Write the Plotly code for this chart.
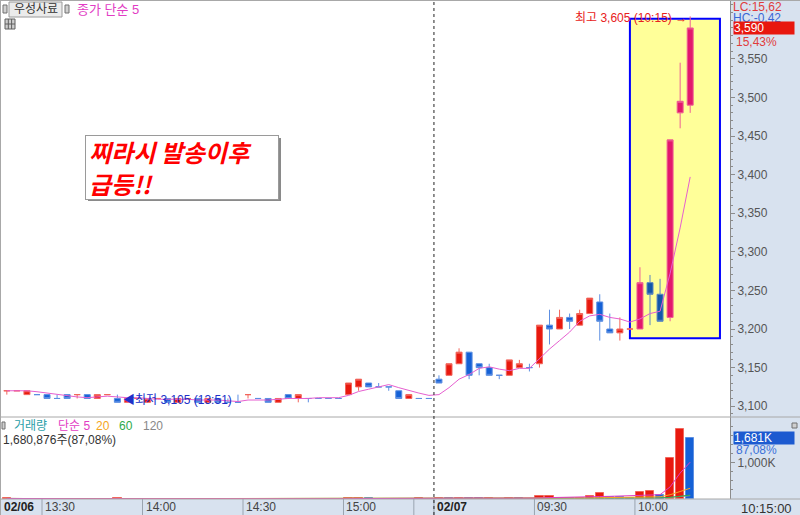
import numpy as np
import pandas as pd
import plotly.graph_objects as go

# ---------------- data (3-minute candles, 02/06 13:18 ~ 02/07 10:15) ----------------
opens = [3120, 3120, 3115, 3115, 3115, 3110, 3115, 3115, 3115, 3110,
         3115, 3110, 3105, 3110, 3105, 3110, 3110, 3105, 3110, 3110,
         3105, 3110, 3105, 3105, 3115, 3110, 3110, 3105, 3115, 3110,
         3110, 3110, 3110, 3110, 3115, 3125, 3130, 3125, 3125, 3120,
         3110, 3110, 3110,
         3135, 3140, 3155, 3170, 3155, 3150, 3140, 3140, 3150, 3150,
         3155, 3205, 3200, 3215, 3205, 3220, 3235, 3200, 3195, 3200,
         3200, 3260, 3245, 3215, 3480, 3490]
highs = [3120, 3120, 3120, 3115, 3115, 3115, 3115, 3115, 3115, 3115,
         3115, 3115, 3110, 3110, 3110, 3110, 3110, 3110, 3110, 3110,
         3110, 3110, 3110, 3115, 3115, 3110, 3110, 3110, 3115, 3115,
         3110, 3110, 3110, 3110, 3130, 3135, 3130, 3130, 3125, 3120,
         3115, 3110, 3110,
         3140, 3155, 3175, 3170, 3155, 3155, 3140, 3160, 3160, 3155,
         3205, 3225, 3225, 3220, 3225, 3240, 3245, 3220, 3215, 3200,
         3280, 3270, 3265, 3445, 3545, 3605]
lows = [3115, 3120, 3115, 3115, 3110, 3110, 3110, 3110, 3110, 3110,
        3115, 3105, 3105, 3110, 3105, 3110, 3105, 3105, 3110, 3105,
        3105, 3105, 3105, 3105, 3110, 3110, 3105, 3105, 3110, 3105,
        3105, 3110, 3110, 3110, 3115, 3120, 3125, 3125, 3120, 3110,
        3110, 3110, 3110,
        3130, 3140, 3155, 3135, 3140, 3140, 3135, 3140, 3150, 3145,
        3150, 3180, 3200, 3200, 3205, 3220, 3185, 3195, 3185, 3200,
        3200, 3205, 3210, 3210, 3460, 3480]
closes = [3120, 3120, 3120, 3115, 3110, 3110, 3110, 3115, 3110, 3115,
          3115, 3105, 3110, 3110, 3110, 3110, 3105, 3110, 3110, 3105,
          3110, 3105, 3105, 3105, 3115, 3110, 3105, 3110, 3110, 3115,
          3110, 3110, 3110, 3110, 3130, 3135, 3125, 3125, 3125, 3110,
          3115, 3110, 3110,
          3130, 3155, 3170, 3140, 3150, 3140, 3140, 3160, 3155, 3150,
          3205, 3200, 3215, 3210, 3220, 3240, 3210, 3195, 3200, 3200,
          3260, 3245, 3210, 3445, 3495, 3590]
volumes = [15000, 8000, 5000, 12000, 6000, 9000, 4000, 7000, 5000, 10000,
           6000, 20000, 12000, 5000, 8000, 4000, 9000, 6000, 3000, 7000,
           5000, 8000, 4000, 6000, 9000, 3000, 7000, 5000, 8000, 10000,
           4000, 3000, 2000, 3000, 20000, 30000, 15000, 8000, 6000, 12000,
           9000, 25000, 10000,
           40000, 15000, 40000, 20000, 15000, 15000, 8000, 20000, 15000, 12000,
           70000, 72000, 30000, 25000, 30000, 90000, 160000, 60000, 55000, 30000,
           185000, 210000, 110000, 1125000, 1930260, 1680876]

tick_pos = [3.5, 13.5, 23.5, 33.5, 40.5, 42.5, 52.5, 62.5]
tick_labels = ["13:30", "14:00", "14:30", "15:00", "", "02/07", "09:30", "10:00"]
first_label = "02/06"
day_break = 42.5
highlight_from = 63          # candles drawn inside the yellow box
box_x = (62.0, 70.96)
box_y = (3188, 3602)

price_ticks = list(range(3100, 3551, 50))

# ---------------- derived ----------------
n = len(closes)
idx = np.arange(n)
ma5 = pd.Series(closes).rolling(5, min_periods=1).mean()
vol = pd.Series(volumes, dtype=float)
vma = {w: vol.rolling(w, min_periods=1).mean() for w in (5, 20, 60, 120)}

RED, RED_L = "#e8190f", "#f2665c"
BLUE, BLUE_L = "#1561d6", "#5d8fe2"
PINK, PINK_L = "#e3186c", "#ee5f95"
DBLUE, DBLUE_L = "#1357a9", "#5a86c2"
STRIP = "#d8e2ef"
FONT = "Liberation Sans, Noto Sans CJK KR, sans-serif"

W, H = 800, 515
XR = 730 / W
def px(x): return x / W
def py(y): return 1 - y / H

fig = go.Figure()

fig.add_trace(go.Scatter(x=idx, y=ma5, mode="lines", line=dict(color="#e65fd0", width=1),
                         hoverinfo="skip", showlegend=False))

def candles(sl, up, upl, dn, dnl):
    return go.Candlestick(x=idx[sl], open=np.array(opens)[sl], high=np.array(highs)[sl],
                          low=np.array(lows)[sl], close=np.array(closes)[sl],
                          increasing=dict(line=dict(color=upl, width=1), fillcolor=up),
                          decreasing=dict(line=dict(color=dnl, width=1), fillcolor=dn),
                          whiskerwidth=0, showlegend=False, hoverinfo="skip")

fig.add_trace(candles(slice(0, highlight_from), RED, RED_L, BLUE, BLUE_L))
fig.add_trace(candles(slice(highlight_from, n), PINK, PINK_L, DBLUE, DBLUE_L))

vcol = [RED if (i == 0 or volumes[i] >= volumes[i - 1]) else BLUE for i in range(n)]
vline = [RED_L if c == RED else BLUE_L for c in vcol]
fig.add_trace(go.Bar(x=idx, y=volumes, marker=dict(color=vcol, line=dict(color=vline, width=1)),
                     width=0.82, xaxis="x2", yaxis="y2", showlegend=False, hoverinfo="skip"))
for w, c in ((120, "#a0a0a0"), (60, "#2eaa4a"), (20, "#f5a623"), (5, "#e23cc4")):
    fig.add_trace(go.Scatter(x=idx, y=vma[w], mode="lines", line=dict(color=c, width=1),
                             xaxis="x2", yaxis="y2", showlegend=False, hoverinfo="skip"))

# ---------------- shapes ----------------
shapes = []
shapes.append(dict(type="rect", xref="paper", yref="paper", x0=XR, x1=1, y0=0, y1=1,
                   fillcolor=STRIP, line=dict(width=0), layer="below"))
shapes.append(dict(type="rect", xref="paper", yref="paper", x0=0, x1=XR, y0=0, y1=py(499),
                   fillcolor=STRIP, line=dict(width=0), layer="below"))
shapes.append(dict(type="rect", xref="x", yref="y", x0=box_x[0], x1=box_x[1], y0=box_y[0], y1=box_y[1],
                   fillcolor="#ffff99", line=dict(color="#0000ff", width=2), layer="below"))
for yy in (417, 499):
    shapes.append(dict(type="line", xref="paper", yref="paper", x0=0, x1=1, y0=py(yy), y1=py(yy),
                       line=dict(color="#a8a8a8", width=1)))
shapes.append(dict(type="line", xref="paper", yref="paper", x0=0, x1=1, y0=py(0.5), y1=py(0.5),
                   line=dict(color="#a8a8a8", width=1)))
shapes.append(dict(type="line", xref="paper", yref="paper", x0=px(0.5), x1=px(0.5), y0=0, y1=1,
                   line=dict(color="#a8a8a8", width=1)))
for t in tick_pos:
    shapes.append(dict(type="line", xref="x", yref="paper", x0=t, x1=t, y0=0, y1=py(499),
                       line=dict(color="#9aa4b0", width=1)))
shapes.append(dict(type="line", xref="x", yref="paper", x0=day_break, x1=day_break, y0=0, y1=1,
                   line=dict(color="#222222", width=1, dash="dot")))
# header button & icons
shapes.append(dict(type="rect", xref="paper", yref="paper", x0=px(9), x1=px(62), y0=py(17), y1=py(2),
                   fillcolor="#ebebeb", line=dict(color="#9a9a9a", width=1)))
for x0 in (3, 65):
    shapes.append(dict(type="rect", xref="paper", yref="paper", x0=px(x0), x1=px(x0 + 4), y0=py(13), y1=py(5),
                       fillcolor="#d0d0d0", line=dict(color="#707070", width=1)))
shapes.append(dict(type="rect", xref="paper", yref="paper", x0=px(5), x1=px(15), y0=py(29), y1=py(19),
                   fillcolor="#cfcfcf", line=dict(color="#606060", width=1)))
for gx in (8.3, 11.6):
    shapes.append(dict(type="line", xref="paper", yref="paper", x0=px(gx), x1=px(gx), y0=py(29), y1=py(19),
                       line=dict(color="#606060", width=1)))
shapes.append(dict(type="line", xref="paper", yref="paper", x0=px(5), x1=px(15), y0=py(24), y1=py(24),
                   line=dict(color="#606060", width=1)))
shapes.append(dict(type="rect", xref="paper", yref="paper", x0=px(2), x1=px(5), y0=py(429), y1=py(422),
                   fillcolor="#d0d0d0", line=dict(color="#707070", width=1)))
shapes.append(dict(type="rect", xref="paper", yref="paper", x0=px(792), x1=px(797), y0=py(428), y1=py(423),
                   fillcolor="#cfcfcf", line=dict(color="#707070", width=1)))
# shadow for callout box
shapes.append(dict(type="rect", xref="paper", yref="paper", x0=px(88), x1=px(281), y0=py(201), y1=py(138),
                   fillcolor="#8a8a8a", line=dict(width=0)))

# ---------------- annotations ----------------
ann = []
def text(t, x, y, color, size=12, xanchor="left", **kw):
    d = dict(text=t, xref="paper", yref="paper", x=px(x), y=py(y), xanchor=xanchor, yanchor="middle",
             showarrow=False, font=dict(family=FONT, size=size, color=color))
    d.update(kw)
    ann.append(d)

text("우성사료", 35.5, 9.5, "#333333", 12, xanchor="center")
text("종가 단순 5", 75, 10, "#e23cc4", 13)
text("거래량", 12, 426, "#2aa0a8")
text("단순 5", 56, 426, "#e23cc4")
text("20", 94, 426, "#f5a623")
text("60", 117, 426, "#2eaa4a")
text("120", 141, 426, "#888888")
text("1,680,876주(87,08%)", 1, 440, "#333333")
text("LC:15,62", 731, 7, "#e03c3c")
text("HC:-0,42", 731, 18, "#3a66d6")
text("15,43%", 734, 42, "#e03c3c")
text("87,08%", 734, 450, "#3a70d8")
text("10:15:00", 739, 508, "#333333", 13)
text("<b>" + first_label + "</b>", 2, 507, "#222222", 12)
for t, lab in zip(tick_pos, tick_labels):
    if not lab:
        continue
    lab_txt = "<b>" + lab + "</b>" if "/" in lab else lab
    ann.append(dict(text=lab_txt, xref="x", yref="paper", x=t, y=py(507), xanchor="left", yanchor="middle",
                    xshift=1, showarrow=False,
                    font=dict(family=FONT, size=12, color="#222222" if "/" in lab else "#444444")))

ann.append(dict(text="3,590", xref="paper", yref="y", x=px(733), y=closes[-1], xanchor="left",
                yanchor="middle", showarrow=False, width=60, height=12, align="left", bgcolor="#e8170e",
                borderpad=0, font=dict(family=FONT, size=12, color="white")))
ann.append(dict(text="1,681K", xref="paper", yref="y2", x=px(733), y=volumes[-1], xanchor="left",
                yanchor="middle", showarrow=False, width=60, height=12, align="left", bgcolor="#1c5ad0",
                borderpad=0, font=dict(family=FONT, size=12, color="white")))

ihi = int(np.argmax(highs))
ilo = int(np.argmin(lows))
ann.append(dict(text="최고 3,605 (10:15) →", xref="x", yref="y", x=ihi - 0.15, y=highs[ihi],
                xanchor="right", yanchor="middle", yshift=-2, showarrow=False,
                font=dict(family=FONT, size=12, color="#e82020")))
ann.append(dict(text="◀최저 3,105 (13:51)", xref="x", yref="y", x=ilo + 0.35, y=lows[ilo],
                xanchor="left", yanchor="middle", yshift=2, showarrow=False,
                font=dict(family=FONT, size=12, color="#2030c8")))

ann.append(dict(text="<b><i>찌라시 발송이후<br>급등!!</i></b>", xref="paper", yref="paper",
                x=px(85), y=py(135), xanchor="left", yanchor="top", showarrow=False,
                width=186, height=57, align="left", valign="middle", bgcolor="white",
                bordercolor="#9a9a9a", borderwidth=1, borderpad=3,
                font=dict(family="Noto Sans CJK KR, sans-serif", size=24, color="#ff0000")))

fig.update_layout(
    width=W, height=H, margin=dict(l=0, r=0, t=0, b=0),
    paper_bgcolor="white", plot_bgcolor="white", showlegend=False,
    boxgap=0.15, bargap=0,
    xaxis=dict(domain=[0, XR], range=[-0.68, 71.96], showticklabels=False, showgrid=False,
               zeroline=False, anchor="y", rangeslider=dict(visible=False), fixedrange=True),
    xaxis2=dict(domain=[0, XR], matches="x", showticklabels=False, showgrid=False,
                zeroline=False, anchor="y2"),
    yaxis=dict(domain=[py(417), 1], range=[3086.0, 3626.2], side="right", anchor="x",
               tickvals=price_ticks, tickformat=",d", ticks="outside", ticklen=4, tickcolor="#8c8c8c",
               showline=True, linecolor="#8c8c8c", showgrid=False, zeroline=False,
               tickfont=dict(family=FONT, size=12, color="#555555"),
               minor=dict(dtick=10, ticks="outside", ticklen=2, tickcolor="#8c8c8c", showgrid=False)),
    yaxis2=dict(domain=[py(499), py(417)], range=[0, 2250000], side="right", anchor="x2",
                tickvals=[1000000], ticktext=["1,000K"], ticks="outside", ticklen=4, tickcolor="#8c8c8c",
                showline=True, linecolor="#8c8c8c", showgrid=False, zeroline=False,
                tickfont=dict(family=FONT, size=12, color="#555555"),
                minor=dict(tickvals=[250000, 500000, 750000, 1250000, 1500000, 1750000, 2000000],
                           ticks="outside", ticklen=2, tickcolor="#8c8c8c", showgrid=False)),
    shapes=shapes, annotations=ann,
)

fig.write_html("out.html", config={"displayModeBar": False},
               post_script="document.body.style.margin='0';document.body.style.padding='0';"
                           "document.body.style.overflow='hidden';")
